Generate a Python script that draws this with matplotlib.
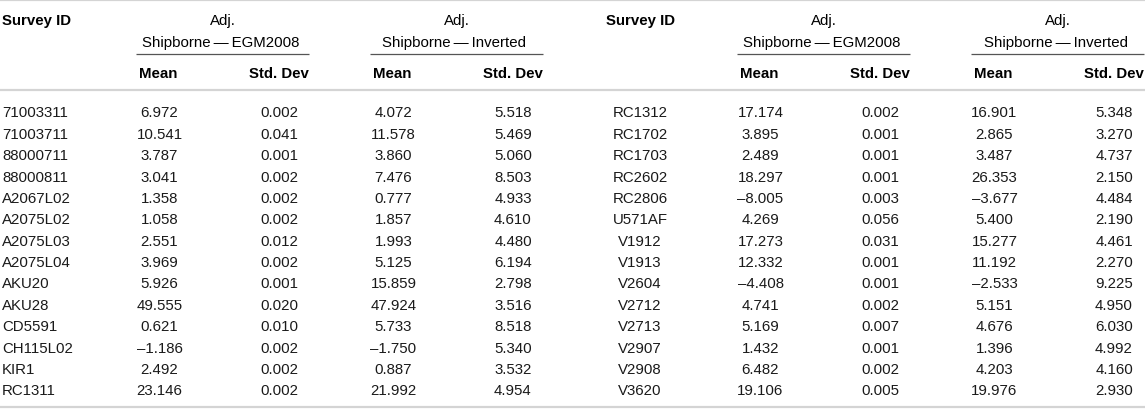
import matplotlib
matplotlib.use("Agg")
import matplotlib.pyplot as plt

plt.rcParams['font.family'] = ['Liberation Sans', 'DejaVu Sans']

# left half of the table
left_ids = ['71003311', '71003711', '88000711', '88000811', 'A2067L02', 'A2075L02',
            'A2075L03', 'A2075L04', 'AKU20', 'AKU28', 'CD5591', 'CH115L02', 'KIR1', 'RC1311']
left_egm_mean = [6.972, 10.541, 3.787, 3.041, 1.358, 1.058, 2.551, 3.969, 5.926, 49.555,
                 0.621, -1.186, 2.492, 23.146]
left_egm_std = [0.002, 0.041, 0.001, 0.002, 0.002, 0.002, 0.012, 0.002, 0.001, 0.020,
                0.010, 0.002, 0.002, 0.002]
left_inv_mean = [4.072, 11.578, 3.860, 7.476, 0.777, 1.857, 1.993, 5.125, 15.859, 47.924,
                 5.733, -1.750, 0.887, 21.992]
left_inv_std = [5.518, 5.469, 5.060, 8.503, 4.933, 4.610, 4.480, 6.194, 2.798, 3.516,
                8.518, 5.340, 3.532, 4.954]

# right half of the table
right_ids = ['RC1312', 'RC1702', 'RC1703', 'RC2602', 'RC2806', 'U571AF', 'V1912', 'V1913',
             'V2604', 'V2712', 'V2713', 'V2907', 'V2908', 'V3620']
right_egm_mean = [17.174, 3.895, 2.489, 18.297, -8.005, 4.269, 17.273, 12.332, -4.408,
                  4.741, 5.169, 1.432, 6.482, 19.106]
right_egm_std = [0.002, 0.001, 0.001, 0.001, 0.003, 0.056, 0.031, 0.001, 0.001, 0.002,
                 0.007, 0.001, 0.002, 0.005]
right_inv_mean = [16.901, 2.865, 3.487, 26.353, -3.677, 5.400, 15.277, 11.192, -2.533,
                  5.151, 4.676, 1.396, 4.203, 19.976]
right_inv_std = [5.348, 3.270, 4.737, 2.150, 4.484, 2.190, 4.461, 2.270, 9.225, 4.950,
                 6.030, 4.992, 4.160, 2.930]

group_names = ['Shipborne\u2009\u2014\u2009EGM2008', 'Shipborne\u2009\u2014\u2009Inverted']

W, H = 1145, 410
fs = 10.8
rule_col = '#d4d4d4'
txt_col = '#1a1a1a'


def fmt(v):
    return f'{v:.3f}'.replace('-', '\u2013')


fig = plt.figure(figsize=(W / 100, H / 100), dpi=100)
ax = fig.add_axes([0, 0, 1, 1])
ax.set_xlim(0, W)
ax.set_ylim(H, 0)
ax.axis('off')

# horizontal rules
for y in [1, 91, 408]:
    ax.plot([0, W], [y, y], color=rule_col, lw=1.6, solid_capstyle='butt')

row_y0 = 117.4
row_dy = 21.38


def draw_half(x0, ids, cols, id_left):
    # survey id column
    if id_left:
        ax.text(x0 + 2, 25.4, 'Survey ID', ha='left', va='baseline', fontsize=fs,
                fontweight='bold', color='black')
    else:
        ax.text(x0 + 39, 25.4, 'Survey ID', ha='center', va='baseline', fontsize=fs,
                fontweight='bold', color='black')
    for i, s in enumerate(ids):
        y = row_y0 + i * row_dy
        if id_left:
            ax.text(x0 + 2, y, s, ha='left', va='baseline', fontsize=fs, color=txt_col)
        else:
            ax.text(x0 + 39, y, s, ha='center', va='baseline', fontsize=fs, color=txt_col)

    groups = [(x0 + 136, x0 + 309), (x0 + 370, x0 + 543)]
    for g, (ga, gb) in enumerate(groups):
        gc = (ga + gb) / 2
        ax.text(gc, 25.4, 'Adj.', ha='center', va='baseline', fontsize=fs, color='black')
        ax.text(gc - 2, 47.4, group_names[g], ha='center', va='baseline', fontsize=fs,
                color='black')
        ax.plot([ga, gb], [55, 55], color='#555555', lw=0.9, solid_capstyle='butt')
        ax.text(ga + 3, 78.4, 'Mean', ha='left', va='baseline', fontsize=fs,
                fontweight='bold', color='black')
        ax.text(gb, 78.4, 'Std. Dev', ha='right', va='baseline', fontsize=fs,
                fontweight='bold', color='black')
        mean_vals, std_vals = cols[2 * g], cols[2 * g + 1]
        mc = ga + 3 + 20.5
        sc = gb - 30
        for i in range(len(mean_vals)):
            y = row_y0 + i * row_dy
            ax.text(mc, y, fmt(mean_vals[i]), ha='center', va='baseline', fontsize=fs,
                    color=txt_col)
            ax.text(sc, y, fmt(std_vals[i]), ha='center', va='baseline', fontsize=fs,
                    color=txt_col)


draw_half(0, left_ids, [left_egm_mean, left_egm_std, left_inv_mean, left_inv_std], True)
draw_half(601, right_ids, [right_egm_mean, right_egm_std, right_inv_mean, right_inv_std],
          False)

fig.savefig('out.png', dpi=100, facecolor='white')
